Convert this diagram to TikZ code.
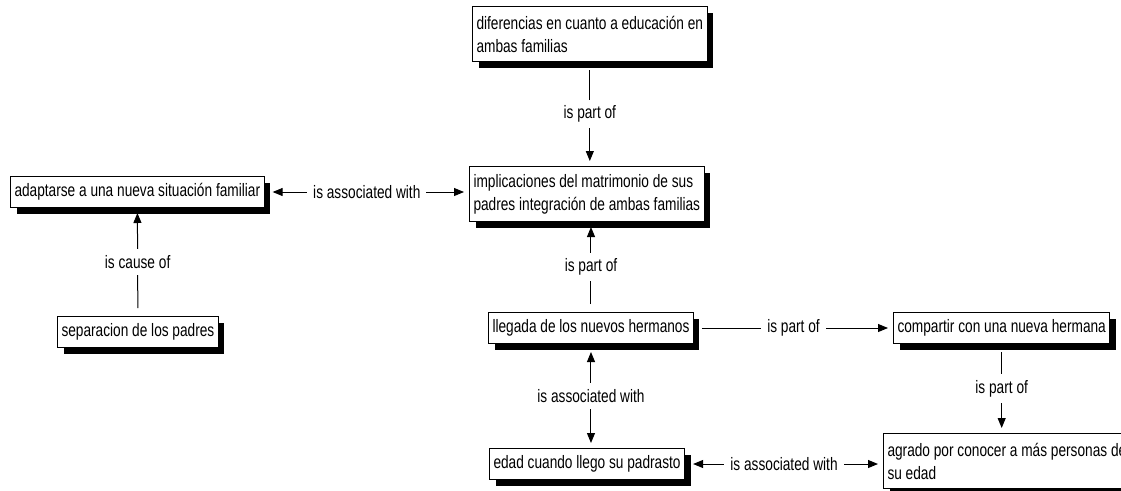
\documentclass[tikz,border=0pt]{standalone}
\usepackage{fontspec}
\setmainfont{Liberation Sans}[FakeStretch=0.76]
\usetikzlibrary{arrows.meta,shadows}

\begin{document}
\begin{tikzpicture}[x=1pt,y=-1pt,font=\fontsize{18}{23}\selectfont]
                \useasboundingbox (0,0) rectangle (1121,490);
                \clip (0,0) rectangle (1121,490);

                \begin{scope}[every node/.style = {draw, line width=1pt, fill=white, anchor=north west, align=left,
                                inner xsep=4pt, inner ysep=3pt, minimum height=31pt,
                                drop shadow={shadow xshift=6pt, shadow yshift=-6pt, fill=black, opacity=1}}]
                    \node (D) at (472, 6)    [minimum height=55pt] {diferencias en cuanto a educación en\\ambas familias};
                    \node (I) at (469, 166)  [minimum height=55pt] {implicaciones del matrimonio de sus\\padres integración de ambas familias};
                    \node (A) at (10, 176)   {adaptarse a una nueva situación familiar};
                    \node (S) at (57, 316)   {separacion de los padres};
                    \node (L) at (488, 312)  {llegada de los nuevos hermanos};
                    \node (C) at (893, 312)  {compartir con una nueva hermana};
                    \node (G) at (883, 433)  [minimum height=55pt] {agrado por conocer a más personas de\\su edad};
                    \node (E) at (489, 448)  {edad cuando llego su padrasto};
                \end{scope}

                \begin{scope}[>={Triangle[length=10pt,width=8pt]},
                                every node/.style={fill=white, inner sep=6pt},
                                every edge/.style={draw, line width=1pt, shorten <=8pt, shorten >=5pt}]
                     \path [->] (D) edge node {is part of} (D |- I.north);
                     \path [<->] (A) edge node {is associated with} (A -| I.west);
                     \path [->] (S) edge node {is cause of} (A);
                     \path [->] (L) edge node {is part of} (L |- I.south);
                     \path [->] (L) edge node {is part of} (C);
                     \path [->] (C) edge node {is part of} (C |- G.north);
                     \path [<->] (L) edge node {is associated with} (L |- E.north);
                     \path [<->] (E) edge node {is associated with} (E -| G.west);
                \end{scope}
            \end{tikzpicture}
\end{document}
